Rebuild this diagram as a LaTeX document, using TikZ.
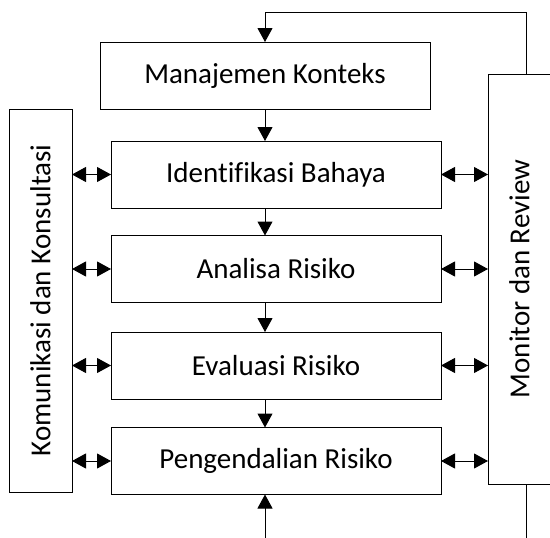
\documentclass[tikz,border=0pt]{standalone}
\usepackage{fontspec}
\setmainfont{Carlito}[Ligatures=NoCommon]
\usetikzlibrary{arrows.meta}

\tikzset{
  box/.style={draw, line width=1pt, minimum width=330pt, minimum height=67pt,
    inner sep=0pt, outer sep=0pt, font=\fontsize{29}{34}\selectfont},
  sidebox/.style={box, minimum width=63pt},
  flow/.style={line width=1pt, -{Triangle[length=14pt,width=15pt]}},
  both/.style={line width=1pt, {Triangle[length=14pt,width=15pt]}-{Triangle[length=14pt,width=15pt]}},
}

\begin{document}
\begin{tikzpicture}[x=1pt, y=-1pt]

  % Frame of the picture
  \useasboundingbox (0,0) rectangle (550,538);
  \clip (0,0) rectangle (550,538);

  % Process steps
  \node[box] (konteks) at (265,75.5) {Manajemen Konteks};
  \node[box] (identifikasi) at (276,174.5) {Identifikasi Bahaya};
  \node[box] (analisa) at (276,269) {Analisa Risiko};
  \node[box] (evaluasi) at (276,365.5) {Evaluasi Risiko};
  \node[box] (pengendalian) at (276,461) {Pengendalian Risiko};

  % Side boxes (Monitor box runs past the right edge)
  \node[sidebox, minimum height=383pt] (komunikasi) at (40.5,300.5)
    {\rotatebox{90}{Komunikasi dan Konsultasi}};
  \node[sidebox, minimum height=410pt] (monitor) at (519.5,279)
    {\rotatebox{90}{Monitor dan Review}};

  % Downward flow
  \draw[flow] (konteks.south) -- (konteks.south |- identifikasi.north);
  \draw[flow] (identifikasi.south -| konteks) -- (analisa.north -| konteks);
  \draw[flow] (analisa.south -| konteks) -- (evaluasi.north -| konteks);
  \draw[flow] (evaluasi.south -| konteks) -- (pengendalian.north -| konteks);

  % Feedback from monitor back to the top
  \coordinate (corner) at (526.5,12.5);
  \draw[flow] (monitor.north -| corner) -- (corner) -| (konteks.north);

  % Lines leaving at the bottom
  \coordinate (exit) at (526.5,540);
  \draw[line width=1pt] (monitor.south -| exit) -- (exit);
  \coordinate (entry) at (265,540);
  \draw[flow] (entry) -- (entry |- pengendalian.south);

  % Links to the side boxes
  \foreach \s in {identifikasi,analisa,evaluasi,pengendalian} {
    \draw[both] (komunikasi.east |- \s) -- (\s.west);
    \draw[both] (\s.east) -- (monitor.west |- \s);
  }

\end{tikzpicture}
\end{document}
